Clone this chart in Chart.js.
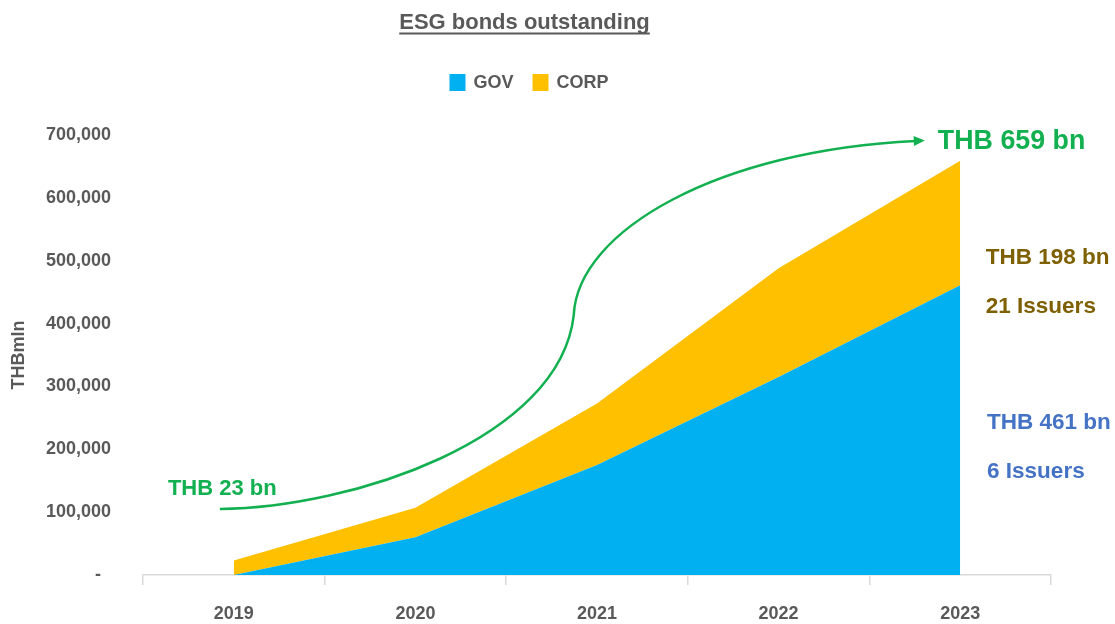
<!DOCTYPE html>
<html>
<head>
<meta charset="utf-8">
<title>ESG bonds outstanding</title>
<script src="https://cdn.jsdelivr.net/npm/chart.js@4.4.1/dist/chart.umd.min.js"></script>
<style>
  html, body { margin: 0; padding: 0; background: #ffffff; }
  #wrap { width: 1115px; height: 624px; position: relative; }
</style>
</head>
<body>
<div id="wrap"><canvas id="esg"></canvas></div>
<script>
// Outstanding ESG bonds by issuer type, THB million
const years = ['2019', '2020', '2021', '2022', '2023'];
const govOutstanding = [0, 60000, 175000, 315000, 461000];
const corpOutstanding = [23000, 47000, 98000, 173000, 198000];
const issuers2023 = { GOV: 6, CORP: 21 };
const yMax = 700000;
const yStep = 100000;

// Growth arrow drawn in data space: [category index, THB mln]
// start, two controls, joint, two controls, tip
const growthArrow = [
  [-0.077, 105000], [0.639, 106600], [1.795, 214800], [1.872, 413600],
  [1.894, 548900], [2.676, 676100], [3.805, 691200]
];
// Text anchors in data space (left edge, baseline)
const startLabelAt = [-0.363, 127300];
const totalLabelAt = [3.877, 677700];
const corpLabelAt = [4.141, 494800];
const corpIssuersAt = [4.141, 416800];
const govLabelAt = [4.148, 232300];
const govIssuersAt = [4.148, 154300];

const FONT = '"Liberation Sans", Arial, Helvetica, sans-serif';
const GRAY = '#595959';
const BLUE = '#00b0f0';
const YELLOW = '#ffc000';
const GREEN = '#12b050';
const BROWN = '#7f6000';
const NAVY = '#4472c4';

Chart.defaults.font.family = FONT;

const bn = v => 'THB ' + Math.round(v / 1000) + ' bn';

const decorations = {
  id: 'decorations',
  afterDraw(chart) {
    const { ctx, scales: { x, y } } = chart;
    const P = ([i, v]) => [x.getPixelForValue(i), y.getPixelForValue(v)];
    ctx.save();

    // Title with underline
    ctx.fillStyle = GRAY;
    ctx.font = 'bold 22px ' + FONT;
    ctx.textAlign = 'center';
    ctx.textBaseline = 'alphabetic';
    const title = 'ESG bonds outstanding';
    const tcx = 524.5;
    ctx.fillText(title, tcx, 29);
    const tw = ctx.measureText(title).width;
    ctx.fillRect(tcx - tw / 2, 32.5, tw, 2);

    // Legend
    ctx.font = 'bold 18px ' + FONT;
    ctx.textAlign = 'left';
    const items = chart.data.datasets.map(d => ({ text: d.label, color: d.backgroundColor }));
    const box = 16, gap = 8, itemGap = 19;
    const widths = items.map(it => box + gap + ctx.measureText(it.text).width);
    const total = widths.reduce((a, b) => a + b, 0) + itemGap * (items.length - 1);
    let lx = 529 - total / 2;
    items.forEach((it, k) => {
      ctx.fillStyle = it.color;
      ctx.fillRect(lx, 74, box, 17);
      ctx.fillStyle = GRAY;
      ctx.fillText(it.text, lx + box + gap, 88);
      lx += widths[k] + itemGap;
    });

    // Growth arrow
    const pts = growthArrow.map(P);
    const tip = pts[6];
    const dx = tip[0] - pts[5][0], dy = tip[1] - pts[5][1];
    const len = Math.hypot(dx, dy);
    const ux = dx / len, uy = dy / len;
    const headLen = 11, headHalf = 5;
    ctx.strokeStyle = GREEN;
    ctx.lineWidth = 2.5;
    ctx.lineCap = 'butt';
    ctx.beginPath();
    ctx.moveTo(pts[0][0], pts[0][1]);
    ctx.bezierCurveTo(pts[1][0], pts[1][1], pts[2][0], pts[2][1], pts[3][0], pts[3][1]);
    ctx.bezierCurveTo(pts[4][0], pts[4][1], pts[5][0], pts[5][1],
      tip[0] - ux * (headLen - 2), tip[1] - uy * (headLen - 2));
    ctx.stroke();
    ctx.fillStyle = GREEN;
    ctx.beginPath();
    ctx.moveTo(tip[0], tip[1]);
    ctx.lineTo(tip[0] - ux * headLen - uy * headHalf, tip[1] - uy * headLen + ux * headHalf);
    ctx.lineTo(tip[0] - ux * headLen + uy * headHalf, tip[1] - uy * headLen - ux * headHalf);
    ctx.closePath();
    ctx.fill();

    // Value labels
    const first = govOutstanding[0] + corpOutstanding[0];
    const last = years.length - 1;
    const lastTotal = govOutstanding[last] + corpOutstanding[last];
    ctx.textAlign = 'left';
    ctx.textBaseline = 'alphabetic';

    ctx.fillStyle = GREEN;
    ctx.font = 'bold 22px ' + FONT;
    let p = P(startLabelAt);
    ctx.fillText(bn(first), p[0], p[1]);

    ctx.font = 'bold 26.8px ' + FONT;
    p = P(totalLabelAt);
    ctx.fillText(bn(lastTotal), p[0], p[1]);

    ctx.font = 'bold 22.5px ' + FONT;
    ctx.fillStyle = BROWN;
    p = P(corpLabelAt);
    ctx.fillText(bn(corpOutstanding[last]), p[0], p[1]);
    p = P(corpIssuersAt);
    ctx.fillText(issuers2023.CORP + ' Issuers', p[0], p[1]);

    ctx.fillStyle = NAVY;
    p = P(govLabelAt);
    ctx.fillText(bn(govOutstanding[last]), p[0], p[1]);
    p = P(govIssuersAt);
    ctx.fillText(issuers2023.GOV + ' Issuers', p[0], p[1]);

    ctx.restore();
  }
};

new Chart(document.getElementById('esg'), {
  type: 'line',
  data: {
    labels: years,
    datasets: [
      {
        label: 'GOV',
        data: govOutstanding,
        fill: 'origin',
        backgroundColor: BLUE,
        borderColor: 'rgba(0,0,0,0)',
        borderWidth: 0,
        pointRadius: 0,
        pointHoverRadius: 0,
        tension: 0
      },
      {
        label: 'CORP',
        data: corpOutstanding,
        fill: '-1',
        backgroundColor: YELLOW,
        borderColor: 'rgba(0,0,0,0)',
        borderWidth: 0,
        pointRadius: 0,
        pointHoverRadius: 0,
        tension: 0
      }
    ]
  },
  options: {
    responsive: true,
    maintainAspectRatio: false,
    animation: false,
    devicePixelRatio: 1,
    layout: { padding: { top: 135, right: 64, bottom: 0, left: 0 } },
    plugins: {
      legend: { display: false },
      title: { display: false },
      tooltip: { enabled: false }
    },
    scales: {
      x: {
        offset: true,
        grid: {
          display: true,
          offset: true,
          drawOnChartArea: false,
          drawTicks: true,
          tickLength: 10,
          color: '#d9d9d9',
          lineWidth: 1.5
        },
        border: { display: true, color: '#d9d9d9', width: 1.5 },
        ticks: {
          color: GRAY,
          font: { size: 18, weight: 'bold' },
          padding: 18,
          maxRotation: 0
        },
        afterFit(scale) { scale.height = 49; }
      },
      y: {
        stacked: true,
        min: 0,
        max: yMax,
        grid: { display: false, drawTicks: false },
        border: { display: false },
        ticks: {
          stepSize: yStep,
          padding: 32,
          color: GRAY,
          font: { size: 18, weight: 'bold' },
          callback: v => (v === 0 ? '-  ' : v.toLocaleString('en-US'))
        },
        title: {
          display: true,
          text: 'THBmln',
          color: GRAY,
          font: { size: 18, weight: 'bold' },
          padding: { top: 8, bottom: 0 }
        },
        afterFit(scale) { scale.width = 143; }
      }
    }
  },
  plugins: [decorations]
});
</script>
</body>
</html>
